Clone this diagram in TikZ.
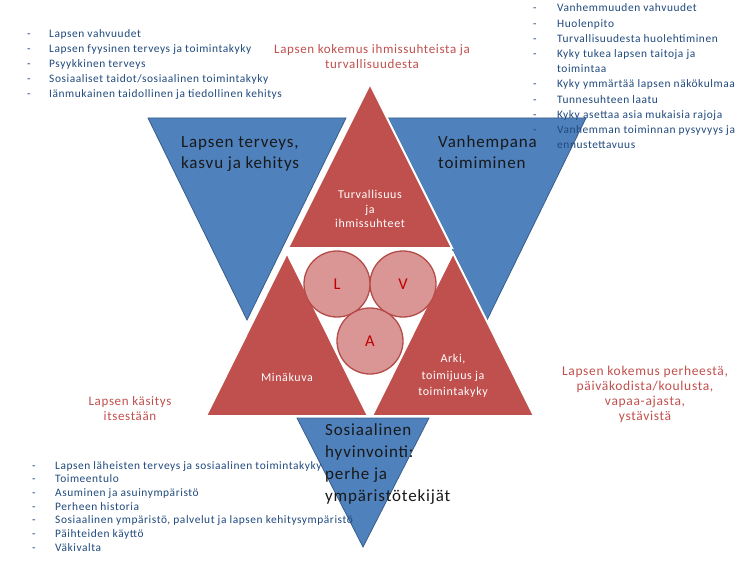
\documentclass[tikz,border=0pt]{standalone}
\usepackage{fontspec}
\setmainfont[LetterSpace=5]{Carlito}
\definecolor{tblue}{HTML}{4F81BD}
\definecolor{tblueline}{HTML}{385D8A}
\definecolor{tred}{HTML}{C0504D}
\definecolor{cfill}{HTML}{D99694}
\definecolor{cline}{HTML}{B54B48}
\definecolor{listblue}{HTML}{1F497D}
\definecolor{annred}{HTML}{C0504D}
\definecolor{letred}{HTML}{C00000}
\tikzset{
  bluetri/.style={fill=tblue, draw=tblueline, line width=0.8pt, line join=miter},
  redtri/.style={fill=tred, draw=white, line width=2pt, line join=miter},
  circ/.style={circle, minimum size=66pt, inner sep=0pt, fill=cfill, draw=cline, line width=1.3pt, text=letred, font=\fontsize{16.5}{18}\selectfont},
  listtxt/.style={anchor=base west, inner sep=0pt, text=listblue, font=\fontsize{11.4}{13}\selectfont},
  ann/.style={anchor=base, inner sep=0pt, text=annred, font=\fontsize{13}{15}\selectfont},
  annR/.style={ann, font=\fontsize{13.5}{15}\selectfont},
  title/.style={anchor=base west, inner sep=0pt, text=black!90, font=\fontsize{17}{19}\selectfont},
  inner/.style={anchor=base, inner sep=0pt, text=white, font=\fontsize{12}{13}\selectfont}
}
\begin{document}
\begin{tikzpicture}[x=1pt,y=-1pt]
\useasboundingbox (0,0) rectangle (746,561);
\fill[white] (0,0) rectangle (746,561);

% blue triangles
\filldraw[bluetri] (148,118) -- (346,118) -- (247,320) -- cycle;
\filldraw[bluetri] (388,118) -- (586,118) -- (487,320) -- cycle;
\filldraw[bluetri] (297,418) -- (429,418) -- (363,547) -- cycle;

% red triangles
\filldraw[redtri] (370,84) -- (452,248) -- (288,248) -- cycle;
\filldraw[redtri] (287,253) -- (368,416) -- (206,416) -- cycle;
\filldraw[redtri] (453,253) -- (534,416) -- (372,416) -- cycle;

% circles
\node[circ] (cL) at (337,284) {L};
\node[circ] (cV) at (403,284) {V};
\node[circ] (cA) at (370,341) {A};

% left list
\foreach \t [count=\i] in {Lapsen vahvuudet, Lapsen fyysinen terveys ja toimintakyky, Psyykkinen terveys, Sosiaaliset taidot/sosiaalinen toimintakyky, Iänmukainen taidollinen ja tiedollinen kehitys}{
  \node[listtxt] (ld\i) at (27,{38+15*(\i-1)}) {-};
  \node[listtxt] (lt\i) at (49,{38+15*(\i-1)}) {\t};
}

% right list
\foreach \t [count=\i] in {Vanhemmuuden vahvuudet, Huolenpito, Turvallisuudesta huolehtiminen, Kyky tukea lapsen taitoja ja, , Kyky ymmärtää lapsen näkökulmaa, Tunnesuhteen laatu, Kyky asettaa asia mukaisia rajoja, Vanhemman toiminnan pysyvyys ja}{
  \node[listtxt] (rd\i) at (533,{12+15.2*(\i-1)}) {\ifx\t\empty\else-\fi};
  \node[listtxt] (rt\i) at (557,{12+15.2*(\i-1)}) {\t};
}
\node[listtxt] (rt5b) at (557,{12+15.2*4}) {toimintaa};
\node[listtxt] (rt10) at (557,{12+15.2*9}) {ennustettavuus};

% bottom list
\foreach \t [count=\i] in {Lapsen läheisten terveys ja sosiaalinen toimintakyky, Toimeentulo, Asuminen ja asuinympäristö, Perheen historia, {Sosiaalinen ympäristö, palvelut ja lapsen kehitysympäristö}, Päihteiden käyttö, Väkivalta}{
  \node[listtxt] (bd\i) at (32,{469+13.7*(\i-1)}) {-};
  \node[listtxt] (bt\i) at (55,{469+13.7*(\i-1)}) {\t};
}

% annotations
\node[ann] (a1) at (372,54) {Lapsen kokemus ihmissuhteista ja};
\node[ann] (a2) at (372,69) {turvallisuudesta};
\node[ann] (a3) at (130,405) {Lapsen käsitys};
\node[ann] (a4) at (130,420) {itsestään};
\node[annR] (a5) at (645,375) {Lapsen kokemus perheestä,};
\node[annR] (a6) at (645,390) {päiväkodista/koulusta,};
\node[annR] (a7) at (645,405) {vapaa-ajasta,};
\node[annR] (a8) at (645,420) {ystävistä};

% blue titles
\node[title] (t1) at (181,148) {Lapsen terveys,};
\node[title] (t2) at (181,169) {kasvu ja kehitys};
\node[title] (t3) at (438,148) {Vanhempana};
\node[title] (t4) at (438,169) {toimiminen};
\node[title] (t5) at (325,435) {Sosiaalinen};
\node[title] (t6) at (325,457) {hyvinvointi:};
\node[title] (t7) at (325,479) {perhe ja};
\node[title] (t8) at (325,501) {ympäristötekijät};

% red triangle texts
\node[inner] (r1) at (370,199) {Turvallisuus};
\node[inner] (r2) at (370,213.5) {ja};
\node[inner] (r3) at (370,228) {ihmissuhteet};
\node[inner] (r4) at (287,381) {Minäkuva};
\node[inner] (r5) at (453,362) {Arki,};
\node[inner] (r6) at (453,379) {toimijuus ja};
\node[inner] (r7) at (453,395) {toimintakyky};
\end{tikzpicture}
\end{document}
